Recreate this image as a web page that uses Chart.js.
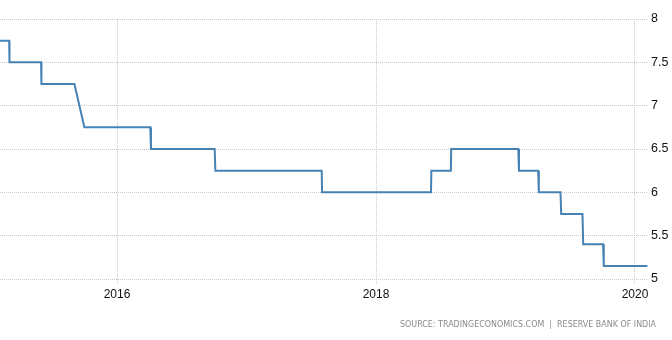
<!DOCTYPE html>
<html>
<head>
<meta charset="utf-8">
<script src="https://cdn.jsdelivr.net/npm/chart.js@4.4.1/dist/chart.umd.min.js"></script>
<style>
  html, body { margin: 0; padding: 0; background: #fff; }
  #wrap { width: 672px; height: 340px; position: relative; }
</style>
</head>
<body>
<div id="wrap"><canvas id="rateChart"></canvas></div>
<script>
// RBI repo rate, points in pairs: last day of old level, first day of new level
const dates = [
  '2015-01-15', '2015-03-03',
  '2015-03-04', '2015-06-01',
  '2015-06-02', '2015-09-03',
  '2015-10-01', '2016-04-04',
  '2016-04-06', '2016-10-03',
  '2016-10-05', '2017-08-01',
  '2017-08-02', '2018-06-05',
  '2018-06-06', '2018-07-31',
  '2018-08-01', '2019-02-06',
  '2019-02-08', '2019-04-03',
  '2019-04-05', '2019-06-05',
  '2019-06-07', '2019-08-06',
  '2019-08-08', '2019-10-03',
  '2019-10-05', '2020-02-05'
];
const rates = [
  7.75, 7.75,
  7.5, 7.5,
  7.25, 7.25,
  6.75, 6.75,
  6.5, 6.5,
  6.25, 6.25,
  6.0, 6.0,
  6.25, 6.25,
  6.5, 6.5,
  6.25, 6.25,
  6.0, 6.0,
  5.75, 5.75,
  5.4, 5.4,
  5.15, 5.15
];
const yearTicks = [2016, 2018, 2020];
const rateTicks = [5, 5.5, 6, 6.5, 7, 7.5, 8];
const sourceText = 'SOURCE: TRADINGECONOMICS.COM  |  RESERVE BANK OF INDIA';

function toYear(s) {
  const d = new Date(s + 'T00:00:00Z');
  const y = d.getUTCFullYear();
  const start = Date.UTC(y, 0, 1), end = Date.UTC(y + 1, 0, 1);
  return y + (d.getTime() - start) / (end - start);
}

const points = dates.map((d, i) => ({ x: toYear(d), y: rates[i] }));

const sourcePlugin = {
  id: 'source',
  afterDraw(chart) {
    const ctx = chart.ctx;
    ctx.save();
    ctx.font = '9px "DejaVu Sans", Verdana, sans-serif';
    ctx.fillStyle = '#8a8a8a';
    ctx.textAlign = 'right';
    ctx.textBaseline = 'middle';
    ctx.fillText(sourceText, 656, 325, 256);
    ctx.restore();
  }
};

const gridColor = '#cccccc';

new Chart(document.getElementById('rateChart'), {
  type: 'line',
  data: {
    datasets: [{
      data: points,
      borderColor: '#4682b4',
      borderWidth: 2,
      pointRadius: 0,
      tension: 0,
      fill: false
    }]
  },
  options: {
    responsive: true,
    maintainAspectRatio: false,
    animation: false,
    layout: { padding: { top: 19, left: 0, right: 0, bottom: 0 } },
    plugins: { legend: { display: false }, tooltip: { enabled: false } },
    scales: {
      x: {
        type: 'linear',
        min: 2015.0965,
        max: 2020.1004,
        afterBuildTicks(axis) { axis.ticks = yearTicks.map(v => ({ value: v })); },
        afterFit(axis) { axis.height = 61; },
        border: { display: false, dash: [1, 1] },
        grid: {
          color: gridColor,
          lineWidth: 1,
          tickLength: 5,
          tickBorderDash: [1, 1],
          tickColor: gridColor
        },
        ticks: {
          color: '#111',
          padding: 3,
          maxRotation: 0,
          font: { family: '"Liberation Sans", Arial, sans-serif', size: 12 },
          callback: v => String(v)
        }
      },
      y: {
        position: 'right',
        min: 5,
        max: 8,
        afterBuildTicks(axis) { axis.ticks = rateTicks.map(v => ({ value: v })); },
        afterFit(axis) { axis.width = 24; },
        border: { display: false, dash: [1, 1] },
        grid: { color: gridColor, lineWidth: 1, drawTicks: false },
        ticks: {
          color: '#111',
          padding: 3,
          font: { family: '"Liberation Sans", Arial, sans-serif', size: 12.5 },
          callback: v => String(v)
        }
      }
    }
  },
  plugins: [sourcePlugin]
});
</script>
</body>
</html>
